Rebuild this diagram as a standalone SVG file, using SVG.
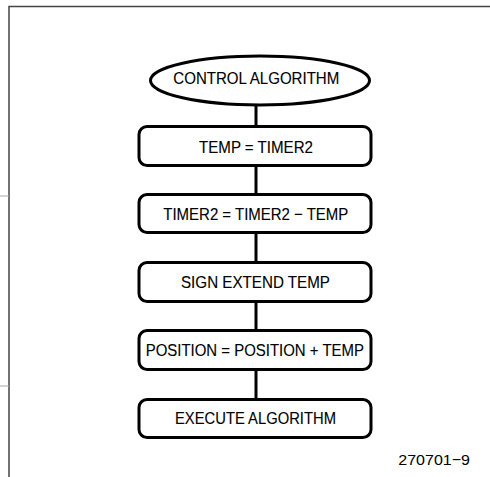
<svg xmlns="http://www.w3.org/2000/svg" width="490" height="477" viewBox="0 0 490 477">
<style>
.frame{fill:none;stroke:#444;stroke-width:1.5}
.tick{stroke:#aaa;stroke-width:1}
.node{fill:#fff;stroke:#000;stroke-width:3}
.conn{stroke:#000;stroke-width:3;fill:none}
.lbl{font-family:"Liberation Sans",Arial,sans-serif;font-size:17px;fill:#000;stroke:#000;stroke-width:0.12}
.ref{font-family:"Liberation Sans",Arial,sans-serif;font-size:15.5px;fill:#000}
</style>
<rect width="490" height="477" fill="#fff"/>
<g id="frame">
<path class="frame" d="M9 477 V6.5 H490"/>
<line class="tick" x1="0" y1="196" x2="9" y2="196"/>
<line class="tick" x1="0" y1="386" x2="9" y2="386"/>
</g>
<g id="connectors">
<line class="conn" x1="256" y1="105" x2="256" y2="126.5"/>
<line class="conn" x1="256" y1="165.5" x2="256" y2="194.5"/>
<line class="conn" x1="256" y1="232.5" x2="256" y2="262.5"/>
<line class="conn" x1="256" y1="301.5" x2="256" y2="330.5"/>
<line class="conn" x1="256" y1="369.5" x2="256" y2="399.5"/>
</g>
<g id="start">
<ellipse class="node" cx="260" cy="80.5" rx="109.5" ry="24.5"/>
<text class="lbl" x="173.3" y="84" textLength="166" lengthAdjust="spacingAndGlyphs">CONTROL ALGORITHM</text>
</g>
<g id="step1">
<rect class="node" x="139" y="126.5" width="232" height="39" rx="8"/>
<text class="lbl" x="199" y="153" textLength="114" lengthAdjust="spacingAndGlyphs">TEMP = TIMER2</text>
</g>
<g id="step2">
<rect class="node" x="139" y="194.5" width="232" height="38" rx="8"/>
<text class="lbl" x="163.3" y="220" textLength="185" lengthAdjust="spacingAndGlyphs">TIMER2 = TIMER2 − TEMP</text>
</g>
<g id="step3">
<rect class="node" x="139" y="262.5" width="232" height="39" rx="8"/>
<text class="lbl" x="181" y="288" textLength="149" lengthAdjust="spacingAndGlyphs">SIGN EXTEND TEMP</text>
</g>
<g id="step4">
<rect class="node" x="139" y="330.5" width="232" height="39" rx="8"/>
<text class="lbl" x="145.7" y="356" textLength="218.3" lengthAdjust="spacingAndGlyphs">POSITION = POSITION + TEMP</text>
</g>
<g id="step5">
<rect class="node" x="139" y="399.5" width="232" height="38" rx="8"/>
<text class="lbl" x="175" y="424" textLength="161" lengthAdjust="spacingAndGlyphs">EXECUTE ALGORITHM</text>
</g>
<text class="ref" x="398.3" y="465" textLength="71.7" lengthAdjust="spacingAndGlyphs">270701−9</text>
</svg>
